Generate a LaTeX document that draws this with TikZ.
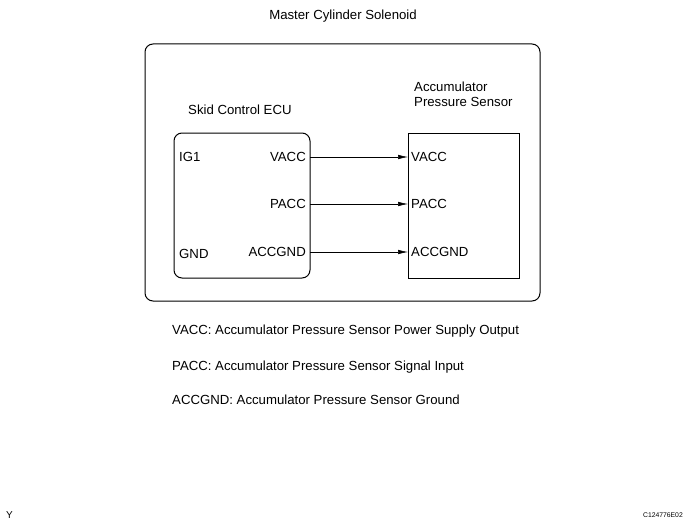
\documentclass[tikz,border=0pt]{standalone}
\usepackage{fontspec}
\setmainfont{Liberation Sans}
\usetikzlibrary{arrows.meta}
\begin{document}
\begin{tikzpicture}[x=1pt,y=-1pt,
  lbl/.style={font=\fontsize{13.2}{15}\selectfont, inner sep=0pt},
  box/.style={draw, line width=1pt},
  conn/.style={line width=0.5pt, -{Latex[length=10pt,width=4.5pt]}}]
\useasboundingbox (0,0) rectangle (691,527);
\node[lbl] (title) at (343,16) {Master Cylinder Solenoid};
\draw[box, rounded corners=8pt] (145,44) rectangle (540,301);
\node[lbl, anchor=west] (ecutitle) at (188,110) {Skid Control ECU};
\draw[box, rounded corners=8pt] (174,133) rectangle (310,278);
\node[lbl, anchor=west, align=left] (senstitle) at (414,94) {Accumulator\\[0pt]Pressure Sensor};
\draw[box] (408,133) rectangle (519,278);
\coordinate (ecuR1) at (310,157);
\coordinate (ecuR2) at (310,204);
\coordinate (ecuR3) at (310,252);
\coordinate (senL1) at (408,157);
\coordinate (senL2) at (408,204);
\coordinate (senL3) at (408,252);
\node[lbl, anchor=west] (ig1) at (179,157) {IG1};
\node[lbl, anchor=west] (gnd) at (179,254) {GND};
\node[lbl, anchor=east] (evacc) at (306,157) {VACC};
\node[lbl, anchor=east] (epacc) at (306,204) {PACC};
\node[lbl, anchor=east] (eacc) at (306,252) {ACCGND};
\node[lbl, anchor=west] (svacc) at (411,157) {VACC};
\node[lbl, anchor=west] (spacc) at (411,204) {PACC};
\node[lbl, anchor=west] (sacc) at (411,252) {ACCGND};
\draw[conn] (ecuR1) -- (senL1);
\draw[conn] (ecuR2) -- (senL2);
\draw[conn] (ecuR3) -- (senL3);
\node[lbl, anchor=west] (l1) at (172,331) {VACC: Accumulator Pressure Sensor Power Supply Output};
\node[lbl, anchor=west] (l2) at (172,367) {PACC: Accumulator Pressure Sensor Signal Input};
\node[lbl, anchor=west] (l3) at (172,400) {ACCGND: Accumulator Pressure Sensor Ground};
\node[lbl, anchor=west, font=\fontsize{10}{11}\selectfont] (y) at (6,515) {Y};
\node[lbl, anchor=east, font=\fontsize{6.8}{8}\selectfont] (code) at (683,515) {C124776E02};
\end{tikzpicture}
\end{document}
